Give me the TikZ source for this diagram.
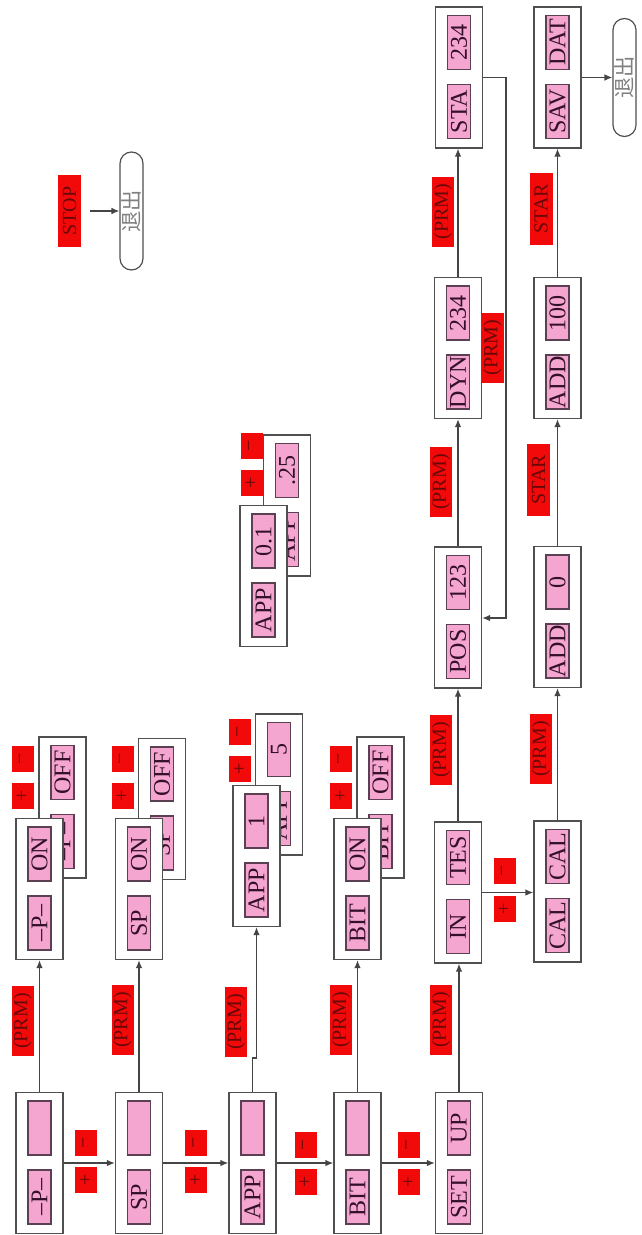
\documentclass[tikz,border=0pt]{standalone}
\usepackage{fontspec}
\setmainfont{Liberation Serif}
\newfontfamily\cjk{Noto Sans CJK SC}
\usetikzlibrary{arrows.meta}
\definecolor{pinkfill}{HTML}{F5A6D0}
\definecolor{redlab}{HTML}{F20A0A}
\definecolor{inktext}{HTML}{34102A}
\definecolor{redtext}{HTML}{6A0808}
\definecolor{boxline}{HTML}{505050}
\definecolor{innerline}{HTML}{5A4052}
\definecolor{linecol}{HTML}{454545}
\tikzset{
  outerbox/.style={draw=boxline, line width=1pt, fill=white, minimum width=35.25pt, minimum height=105.75pt, inner sep=0pt},
  pinkbox/.style={draw=innerline, line width=0.8pt, fill=pinkfill, rotate=90, minimum width=40.5pt, minimum height=17.25pt, inner sep=0pt, text=inktext, font=\fontsize{18}{18}\selectfont},
  redbox/.style={fill=redlab, rotate=90, inner sep=0pt, text=redtext, font=\fontsize{15}{15}\selectfont},
  prmlab/.style={redbox, minimum width=52.5pt, minimum height=16.5pt},
  pmlab/.style={redbox, minimum width=19.5pt, minimum height=16.5pt},
  longlab/.style={redbox, minimum width=54pt, minimum height=17.25pt},
  exitbox/.style={draw=boxline, line width=0.9pt, fill=white, rounded corners=8.6pt, minimum width=17.25pt, minimum height=88.5pt, inner sep=0pt, text=gray},
  arr/.style={draw=linecol, line width=1pt, -{Latex[length=6pt,width=5pt]}},
}
\newcommand{\dispbox}[5]{%
  \node[outerbox] (#1) at (#2,#3) {};
  \node[pinkbox] (#1-a) at (#2,{#3+34}) {#4};
  \node[pinkbox] (#1-b) at (#2,{#3-35}) {#5};
}
\begin{document}
\begin{tikzpicture}[x=0.75pt,y=-0.75pt]
\useasboundingbox (0,0) rectangle (642,1235);
% back screens
\dispbox{s1off}{62.5}{807.5}{–P–}{OFF}
\dispbox{s2off}{162}{809}{SP}{OFF}
\dispbox{s3b}{279}{784.5}{APP}{5}
\dispbox{s4off}{380.5}{807.5}{BIT}{OFF}
\dispbox{appb}{287}{505.5}{APP}{.25}
% front screens
\dispbox{s1}{39.5}{1163}{–P–}{}
\dispbox{s1on}{39.5}{889}{–P–}{ON}
\dispbox{s2}{139}{1163}{SP}{}
\dispbox{s2on}{139}{889}{SP}{ON}
\dispbox{s3}{252.5}{1163}{APP}{}
\dispbox{s3a}{256.5}{856}{APP}{1}
\dispbox{s4}{357.5}{1163}{BIT}{}
\dispbox{s4on}{357.5}{889}{BIT}{ON}
\dispbox{s5}{459}{1163}{SET}{UP}
\dispbox{in}{458}{892.5}{IN}{TES}
\dispbox{cal}{557.5}{891.5}{CAL}{CAL}
\dispbox{pos}{458}{617.5}{POS}{123}
\dispbox{add0}{557.5}{617}{ADD}{0}
\dispbox{dyn}{458}{348}{DYN}{234}
\dispbox{add100}{557.5}{348}{ADD}{100}
\dispbox{sta}{459}{77.5}{STA}{234}
\dispbox{sav}{557.5}{77.5}{SAV}{DAT}
\dispbox{app}{263.5}{576}{APP}{0.1}
% exits
\node[exitbox] (exit1) at (131.5,211) {\rotatebox{90}{\cjk\fontsize{16}{16}\selectfont 退出}};
\node[exitbox] (exit2) at (624.5,77.5) {\rotatebox{90}{\cjk\fontsize{16}{16}\selectfont 退出}};
% red labels
\node[prmlab] (prm1) at (22.5,1021) {(PRM)};
\node[prmlab] (prm2) at (122.5,1020) {(PRM)};
\node[prmlab] (prm3) at (236,1022) {(PRM)};
\node[prmlab] (prm4) at (341,1020) {(PRM)};
\node[prmlab] (prm5) at (441,1020) {(PRM)};
\node[prmlab] (prm6) at (441,750) {(PRM)};
\node[prmlab] (prm7) at (541,749) {(PRM)};
\node[prmlab] (prm8) at (441,482) {(PRM)};
\node[prmlab] (prm9) at (443,211.5) {(PRM)};
\node[prmlab] (prm10) at (492.5,347.5) {(PRM)};
\node[longlab] (star1) at (538.5,479.5) {STAR};
\node[longlab] (star2) at (541,208.5) {STAR};
\node[longlab] (stop) at (69.5,211) {STOP};
\node[pmlab] (m1) at (22.5,758.5) {−};
\node[pmlab] (p1) at (22.5,795.5) {+};
\node[pmlab] (m2) at (122.5,758.5) {−};
\node[pmlab] (p2) at (122.5,795.5) {+};
\node[pmlab] (m3) at (240,731.5) {−};
\node[pmlab] (p3) at (240,768.5) {+};
\node[pmlab] (m4) at (341,758.5) {−};
\node[pmlab] (p4) at (341,795.5) {+};
\node[pmlab] (m5) at (251.5,446) {−};
\node[pmlab] (p5) at (251.5,482.5) {+};
\node[pmlab] (h1m) at (86,1142.5) {−};
\node[pmlab] (h1p) at (86,1179.5) {+};
\node[pmlab] (h2m) at (196,1142.5) {−};
\node[pmlab] (h2p) at (196,1179.5) {+};
\node[pmlab] (h3m) at (305.5,1144.5) {−};
\node[pmlab] (h3p) at (305.5,1181.5) {+};
\node[pmlab] (h4m) at (409,1144.5) {−};
\node[pmlab] (h4p) at (409,1181.5) {+};
\node[pmlab] (h5m) at (504.5,871) {−};
\node[pmlab] (h5p) at (504.5,908.5) {+};
% connectors
\draw[arr] (s1.north) -- (s1on.south);
\draw[arr] (s2.north) -- (s2on.south);
\coordinate (j3) at (252.5,1058);
\draw[arr] (s3.north) -- (j3) -| (s3a.south);
\draw[arr] (s4.north) -- (s4on.south);
\draw[arr] (s5.north) -- (s5.north |- in.south);
\draw[arr] (s1.east) -- (s2.west);
\draw[arr] (s2.east) -- (s3.west);
\draw[arr] (s3.east) -- (s4.west);
\draw[arr] (s4.east) -- (s5.west);
\draw[arr] (in.east) -- (in.east -| cal.west);
\draw[arr] (in.north) -- (pos.south);
\draw[arr] (pos.north) -- (dyn.south);
\draw[arr] (dyn.north) -- (dyn.north |- sta.south);
\coordinate (fb) at (506,618);
\draw[arr] (sta.east) -| (fb) -- (fb -| pos.east);
\draw[arr] (cal.north) -- (add0.south);
\draw[arr] (add0.north) -- (add100.south);
\draw[arr] (add100.north) -- (sav.south);
\draw[arr] (sav.east) -- (exit2.west);
\coordinate (stopstart) at (90,211);
\draw[arr] (stopstart) -- (exit1.west);
\end{tikzpicture}
\end{document}
